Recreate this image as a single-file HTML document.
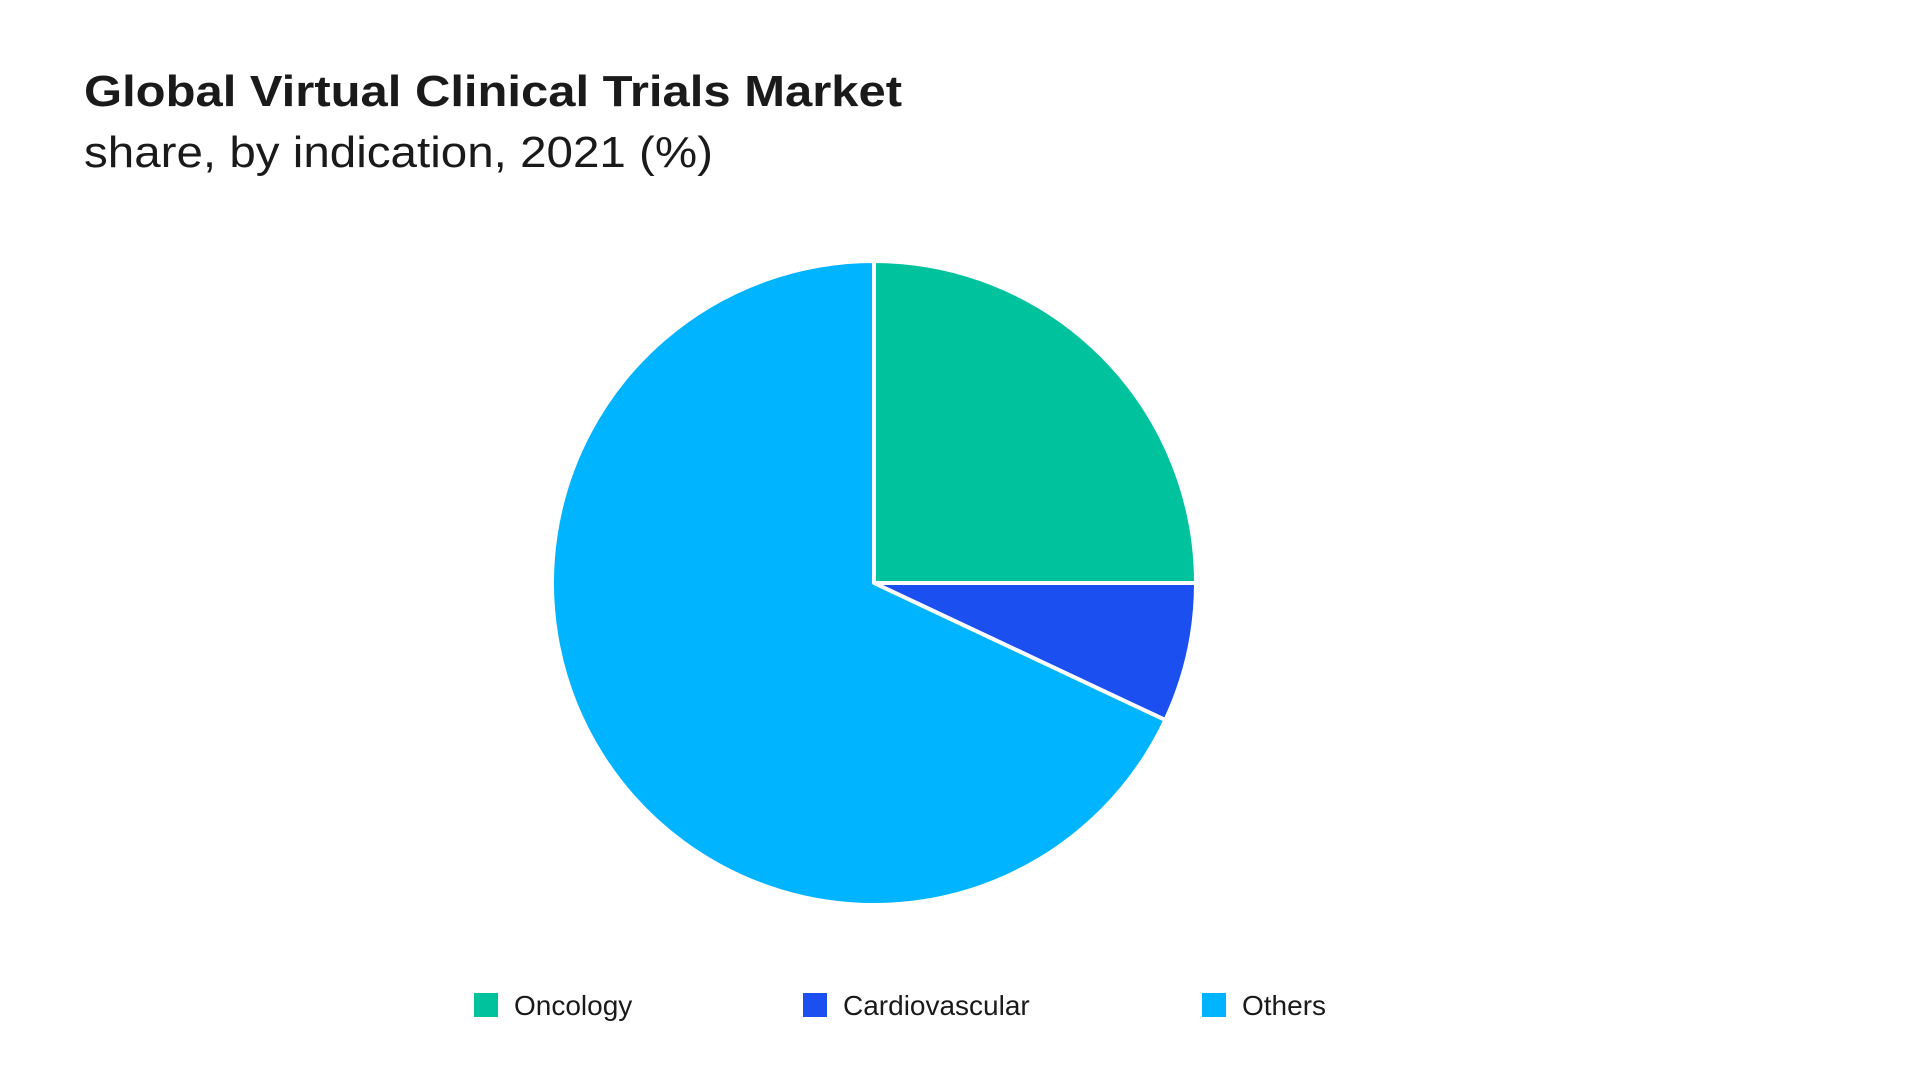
<!DOCTYPE html>
<html>
<head>
<meta charset="utf-8">
<style>
  html, body { margin: 0; padding: 0; background: #ffffff; }
  svg { display: block; }
  text { font-family: "Liberation Sans", sans-serif; fill: #1a1a1a; }
</style>
</head>
<body>
<svg id="chart" width="1920" height="1080" viewBox="0 0 1920 1080">
  <text x="84" y="106" font-size="44" font-weight="bold" textLength="818" lengthAdjust="spacingAndGlyphs">Global Virtual Clinical Trials Market</text>
  <text x="84" y="167" font-size="44" textLength="629" lengthAdjust="spacingAndGlyphs">share, by indication, 2021 (%)</text>
  <g id="slices"></g>
  <g id="legend"></g>
</svg>
<script>
const categories = ["Oncology", "Cardiovascular", "Others"];
const shares = [25, 7, 68];
const colors = ["#00c39e", "#1b4ff0", "#00b4ff"];

const NS = "http://www.w3.org/2000/svg";
const cx = 874, cy = 583, r = 322;
const total = shares.reduce((a, b) => a + b, 0);
function angleOf(v) { return v / total * Math.PI * 2; } // clockwise from 12 o'clock
function pt(a) { return [cx + r * Math.sin(a), cy - r * Math.cos(a)]; }

const g = document.getElementById("slices");
let start = 0;
shares.forEach((v, i) => {
  const end = start + angleOf(v);
  const [x1, y1] = pt(start), [x2, y2] = pt(end);
  const large = (end - start) > Math.PI ? 1 : 0;
  const p = document.createElementNS(NS, "path");
  p.setAttribute("d", `M${cx},${cy} L${x1},${y1} A${r},${r} 0 ${large} 1 ${x2},${y2} Z`);
  p.setAttribute("fill", colors[i]);
  p.setAttribute("stroke", "#ffffff");
  p.setAttribute("stroke-width", "4");
  p.setAttribute("stroke-linejoin", "round");
  
  
  g.appendChild(p);
  start = end;
});

const legendX = [474, 803, 1202];
const lg = document.getElementById("legend");
categories.forEach((c, i) => {
  const item = document.createElementNS(NS, "g");
  
  
  const rect = document.createElementNS(NS, "rect");
  rect.setAttribute("x", legendX[i]);
  rect.setAttribute("y", 993);
  rect.setAttribute("width", 24);
  rect.setAttribute("height", 24);
  rect.setAttribute("fill", colors[i]);
  
  
  const t = document.createElementNS(NS, "text");
  t.setAttribute("x", legendX[i] + 40);
  t.setAttribute("y", 1015);
  t.setAttribute("font-size", "28");
  t.textContent = c;
  
  
  item.appendChild(rect);
  item.appendChild(t);
  lg.appendChild(item);
});
</script>
</body>
</html>
